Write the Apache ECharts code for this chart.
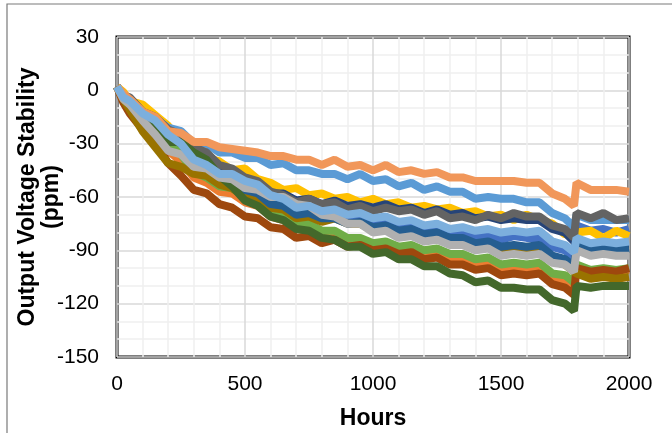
<!DOCTYPE html>
<html>
<head>
<meta charset="utf-8">
<script src="https://cdn.jsdelivr.net/npm/echarts@6/dist/echarts.min.js"></script>
<style>
html,body{margin:0;padding:0;background:#fff;}
#c{width:672px;height:433px;}
</style>
</head>
<body>
<div id="c"></div>
<script>
const hours = [0,25,50,100,150,200,250,300,350,400,450,500,550,600,650,700,750,800,850,900,950,1000,1050,1100,1150,1200,1250,1300,1350,1400,1450,1500,1550,1600,1650,1700,1750,1785,1795,1850,1900,1950,2000];

const blue      = [2,-3,-5,-13,-17,-25,-29,-36,-39,-46,-48,-53,-55,-61,-62,-67,-67,-70,-70,-73,-72,-75,-74,-77,-76,-79,-78,-81,-80,-82,-81,-84,-82,-83,-83,-88,-90,-94,-76,-79,-78,-80,-78];
const orange    = [2,-5,-9,-18,-24,-34,-40,-49,-52,-57,-58,-63,-65,-71,-73,-78,-79,-83,-83,-86,-85,-88,-87,-90,-89,-92,-91,-95,-95,-98,-97,-100,-99,-101,-100,-105,-107,-111,-99,-102,-101,-102,-101];
const yellow    = [2,-1,-6,-8,-14,-20,-31,-32,-38,-40,-45,-44,-50,-52,-56,-55,-59,-58,-61,-60,-63,-61,-64,-63,-66,-65,-67,-66,-69,-68,-71,-70,-73,-70,-73,-75,-81,-81,-80,-79,-83,-79,-82];
const lightBlue = [2,-3,-5,-12,-16,-21,-23,-30,-30,-35,-35,-38,-38,-42,-41,-45,-45,-47,-47,-50,-47,-51,-50,-54,-52,-56,-54,-57,-57,-61,-60,-61,-61,-63,-63,-69,-72,-77,-70,-73,-73,-73,-73];
const green     = [2,-5,-8,-16,-21,-30,-36,-46,-49,-54,-55,-60,-62,-68,-70,-75,-75,-79,-79,-83,-83,-86,-85,-88,-87,-90,-89,-92,-92,-95,-94,-98,-97,-98,-97,-103,-104,-108,-98,-101,-100,-101,-100];
const navy      = [2,-3,-5,-13,-16,-24,-27,-34,-37,-45,-47,-51,-53,-58,-58,-62,-61,-64,-62,-65,-64,-66,-64,-67,-66,-69,-67,-70,-69,-72,-71,-73,-72,-73,-73,-78,-80,-85,-85,-88,-87,-87,-87];
const brown     = [2,-7,-13,-22,-29,-41,-48,-56,-58,-64,-66,-71,-72,-77,-78,-83,-82,-86,-84,-88,-87,-90,-89,-92,-91,-95,-94,-98,-98,-101,-100,-104,-103,-104,-103,-109,-111,-115,-100,-102,-101,-102,-100];
const darkGray  = [2,-3,-4,-12,-15,-22,-25,-32,-35,-42,-44,-49,-51,-57,-59,-63,-61,-64,-63,-67,-65,-68,-66,-68,-67,-70,-68,-72,-71,-73,-70,-72,-69,-71,-71,-76,-78,-83,-69,-72,-69,-73,-72];
const olive     = [2,-5,-11,-23,-32,-41,-43,-47,-48,-53,-55,-60,-61,-66,-67,-72,-71,-74,-72,-75,-75,-79,-78,-81,-80,-83,-82,-85,-85,-88,-87,-91,-90,-91,-91,-96,-98,-102,-103,-106,-105,-106,-105];
const teal      = [2,-4,-6,-14,-18,-26,-30,-38,-41,-48,-50,-56,-58,-64,-65,-70,-69,-72,-72,-75,-74,-77,-76,-79,-78,-81,-80,-83,-83,-86,-85,-88,-87,-88,-87,-93,-95,-99,-87,-90,-89,-90,-89];
const darkGreen = [2,-4,-6,-13,-19,-29,-29,-35,-39,-48,-54,-62,-65,-71,-73,-78,-79,-83,-84,-88,-88,-92,-91,-95,-95,-99,-99,-103,-104,-108,-107,-111,-111,-112,-112,-118,-120,-124,-110,-111,-110,-110,-110];
const lightOrange = [2,-2,-5,-12,-15,-23,-24,-29,-29,-32,-33,-34,-35,-37,-37,-39,-39,-42,-39,-43,-42,-45,-42,-46,-45,-47,-46,-49,-49,-51,-51,-51,-51,-52,-52,-58,-61,-65,-52,-56,-56,-56,-57];
const gray      = [2,-5,-8,-17,-25,-34,-36,-43,-44,-49,-50,-55,-56,-60,-60,-64,-65,-70,-71,-75,-75,-80,-79,-83,-82,-85,-84,-87,-87,-90,-89,-93,-92,-93,-92,-97,-98,-102,-90,-93,-92,-93,-93];
const lightBlue2 = [2,-4,-6,-13,-17,-25,-30,-39,-42,-47,-47,-51,-53,-59,-61,-66,-65,-68,-67,-70,-69,-72,-71,-74,-73,-76,-75,-78,-77,-79,-78,-80,-79,-80,-79,-85,-87,-91,-83,-86,-85,-86,-85];

const yTicks = [-150,-120,-90,-60,-30,0,30];
const xTicks = [0,500,1000,1500,2000];

const seriesList = [
  [blue,'#4472C4'],[orange,'#ED7D31'],[yellow,'#FFC000'],[lightBlue,'#5B9BD5'],
  [green,'#70AD47'],[navy,'#264478'],[brown,'#9E480E'],[darkGray,'#636363'],
  [olive,'#997300'],[teal,'#255E91'],[darkGreen,'#43682B'],[lightOrange,'#F1975A'],
  [gray,'#B0B0B0'],[lightBlue2,'#7CAFDD']
];

const font = 'Liberation Sans, Arial, sans-serif';
const chart = echarts.init(document.getElementById('c'), null, {renderer:'canvas'});
chart.setOption({
  animation:false,
  backgroundColor:'#fff',
  graphic:[{type:'rect',shape:{x:7,y:4,width:670,height:440},style:{fill:'none',stroke:'#7a7a7a',lineWidth:1.2},z:-10}],
  grid:{left:117,top:37,right:43,bottom:76,show:true,borderColor:'#000',borderWidth:3,backgroundColor:'#fff',
    containLabel:false,outerBoundsMode:'none'},
  xAxis:{type:'value',min:xTicks[0],max:xTicks[xTicks.length-1],interval:500,
    name:'Hours',nameLocation:'middle',nameGap:50,nameMoveOverlap:false,
    nameTextStyle:{fontFamily:font,fontSize:23,fontWeight:'bold',color:'#000'},
    axisLine:{show:false},axisTick:{show:false},
    axisLabel:{fontFamily:font,fontSize:21,color:'#000',margin:17,formatter:v=>String(v)},
    splitLine:{show:true,lineStyle:{color:'#D9D9D9',width:1.5}},
    minorTick:{show:false,splitNumber:5},
    minorSplitLine:{show:true,lineStyle:{color:'#F0F0F0',width:1.5}}},
  yAxis:{type:'value',min:yTicks[0],max:yTicks[yTicks.length-1],interval:30,
    name:'Output Voltage Stability\n(ppm)',nameLocation:'middle',nameGap:53,nameMoveOverlap:false,
    nameTextStyle:{fontFamily:font,fontSize:23,fontWeight:'bold',color:'#000',lineHeight:24},
    axisLine:{show:false},axisTick:{show:false},
    axisLabel:{fontFamily:font,fontSize:21,color:'#000',margin:18},
    splitLine:{show:true,lineStyle:{color:'#D9D9D9',width:1.5}},
    minorTick:{show:false,splitNumber:3},
    minorSplitLine:{show:true,lineStyle:{color:'#F0F0F0',width:1.5}}},
  series: seriesList.map(([vals,col])=>({
    type:'line',showSymbol:false,symbol:'none',
    data: hours.map((h,i)=>[h,vals[i]]),
    lineStyle:{color:col,width:8},itemStyle:{color:col}
  }))
});
</script>
</body>
</html>
